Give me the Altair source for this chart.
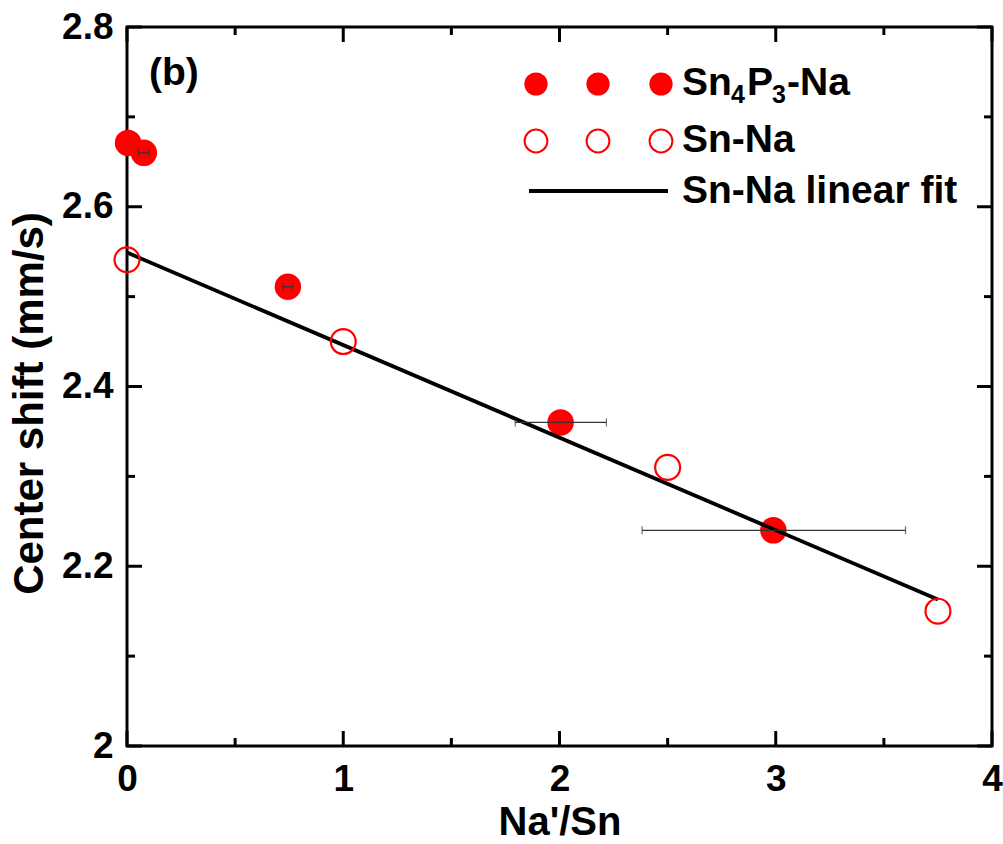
import altair as alt
import pandas as pd

# ---- data ----
filled_x = [0.005, 0.078, 0.744, 2.005, 2.989]
filled_y = [2.671, 2.660, 2.511, 2.360, 2.240]

open_x = [0.0, 1.0, 2.5, 3.75]
open_y = [2.541, 2.450, 2.310, 2.150]

fit_x = [0.0, 3.75]
fit_y = [2.549, 2.163]

err_y = [2.660, 2.511, 2.360, 2.240]
err_lo = [0.052, 0.721, 1.795, 2.382]
err_hi = [0.102, 0.767, 2.217, 3.600]

x_major = [0, 1, 2, 3, 4]
x_minor = [0.5, 1.5, 2.5, 3.5]
y_major = [2.0, 2.2, 2.4, 2.6, 2.8]
y_minor = [2.1, 2.3, 2.5, 2.7]

W, H = 865, 719
FONT = "Liberation Sans"
RED = "#ff0000"

xs = alt.Scale(domain=[0, 4], nice=False, zero=False)
ys = alt.Scale(domain=[2.0, 2.8], nice=False, zero=False)

df_filled = pd.DataFrame({"x": filled_x, "y": filled_y})
df_open = pd.DataFrame({"x": open_x, "y": open_y})
df_fit = pd.DataFrame({"x": fit_x, "y": fit_y})
df_err = pd.DataFrame({"y": err_y, "lo": err_lo, "hi": err_hi})

XA = alt.Axis(
    values=x_major, format="d", labelFont=FONT, labelFontSize=37, labelFontWeight="bold",
    labelColor="black", labelPadding=15, labelFlush=False, ticks=False, tickSize=0,
    domain=False, grid=False, title="Na'/Sn", titleFont=FONT, titleFontSize=40,
    titleFontWeight="bold", titleColor="black", titlePadding=5,
)
YA = alt.Axis(
    values=y_major, labelExpr="datum.value == 2 ? '2' : format(datum.value, '.1f')",
    labelFont=FONT, labelFontSize=37, labelFontWeight="bold", labelColor="black",
    labelPadding=14, ticks=False, tickSize=0, domain=False, grid=False,
    title="Center shift (mm/s)", titleFont=FONT, titleFontSize=42, titleFontWeight="bold",
    titleColor="black", titlePadding=10, titleY=376,
)

def X(f):
    return alt.X(f, scale=xs, axis=XA)

def Y(f):
    return alt.Y(f, scale=ys, axis=YA)

filled = alt.Chart(df_filled).mark_point(filled=True, size=700, color=RED, opacity=1).encode(
    x=X("x:Q"), y=Y("y:Q"))

fit = alt.Chart(df_fit).mark_line(color="black", strokeWidth=3.8).encode(
    x=X("x:Q"), y=Y("y:Q"))

opn = alt.Chart(df_open).mark_point(filled=False, size=620, color=RED, strokeWidth=2.2, opacity=1).encode(
    x=X("x:Q"), y=Y("y:Q"))

err_line = alt.Chart(df_err).mark_rule(color="#333333", strokeWidth=1.2).encode(
    x=X("lo:Q"), x2="hi:Q", y=Y("y:Q"))
err_cap_lo = alt.Chart(df_err).mark_tick(color="#333333", orient="vertical", size=8, thickness=1.2).encode(
    x=X("lo:Q"), y=Y("y:Q"))
err_cap_hi = alt.Chart(df_err).mark_tick(color="#333333", orient="vertical", size=8, thickness=1.2).encode(
    x=X("hi:Q"), y=Y("y:Q"))

# inward ticks on all four sides
tick_layers = []
for vals, ln in [(x_major, 15), (x_minor, 8)]:
    d = pd.DataFrame({"v": vals})
    tick_layers.append(alt.Chart(d).mark_rule(color="black", strokeWidth=3).encode(
        x=X("v:Q"), y=alt.value(H), y2=alt.value(H - ln)))
    tick_layers.append(alt.Chart(d).mark_rule(color="black", strokeWidth=3).encode(
        x=X("v:Q"), y=alt.value(0), y2=alt.value(ln)))
for vals, ln in [(y_major, 15), (y_minor, 8)]:
    d = pd.DataFrame({"v": vals})
    tick_layers.append(alt.Chart(d).mark_rule(color="black", strokeWidth=3).encode(
        y=Y("v:Q"), x=alt.value(0), x2=alt.value(ln)))
    tick_layers.append(alt.Chart(d).mark_rule(color="black", strokeWidth=3).encode(
        y=Y("v:Q"), x=alt.value(W), x2=alt.value(W - ln)))

# legend (pixel layout inside plot area)
one = pd.DataFrame({"a": [0]})
leg = []
for px in [409, 471, 534]:
    leg.append(alt.Chart(one).mark_point(filled=True, size=540, color=RED, opacity=1).encode(
        x=alt.value(px), y=alt.value(57)))
    leg.append(alt.Chart(one).mark_point(filled=False, size=520, color=RED, strokeWidth=2, opacity=1).encode(
        x=alt.value(px), y=alt.value(114)))
leg.append(alt.Chart(one).mark_rule(color="black", strokeWidth=3.8).encode(
    x=alt.value(402), x2=alt.value(541), y=alt.value(164)))

def txt(s, x, y, size=39):
    return alt.Chart(one).mark_text(text=s, font=FONT, fontSize=size, fontWeight="bold",
                                    color="black", align="left", baseline="alphabetic").encode(
        x=alt.value(x), y=alt.value(y))

leg += [
    txt("Sn", 555, 68),
    txt("4", 604, 76, 25),
    txt("P", 620, 68),
    txt("3", 645, 76, 25),
    txt("-Na", 660, 68),
    txt("Sn-Na", 555, 125),
    txt("Sn-Na linear fit", 555, 176),
    txt("(b)", 22, 58, 39),
]

chart = alt.layer(
    filled, *tick_layers, fit, opn, err_line, err_cap_lo, err_cap_hi, *leg
).properties(
    width=W, height=H,
    padding={"left": 127, "top": 27, "right": 11, "bottom": 98},
    autosize=alt.AutoSizeParams(type="none"),
).configure(background="white").configure_view(stroke="black", strokeWidth=3)

chart.save("out.html", embed_options={"renderer": "svg", "actions": False})
